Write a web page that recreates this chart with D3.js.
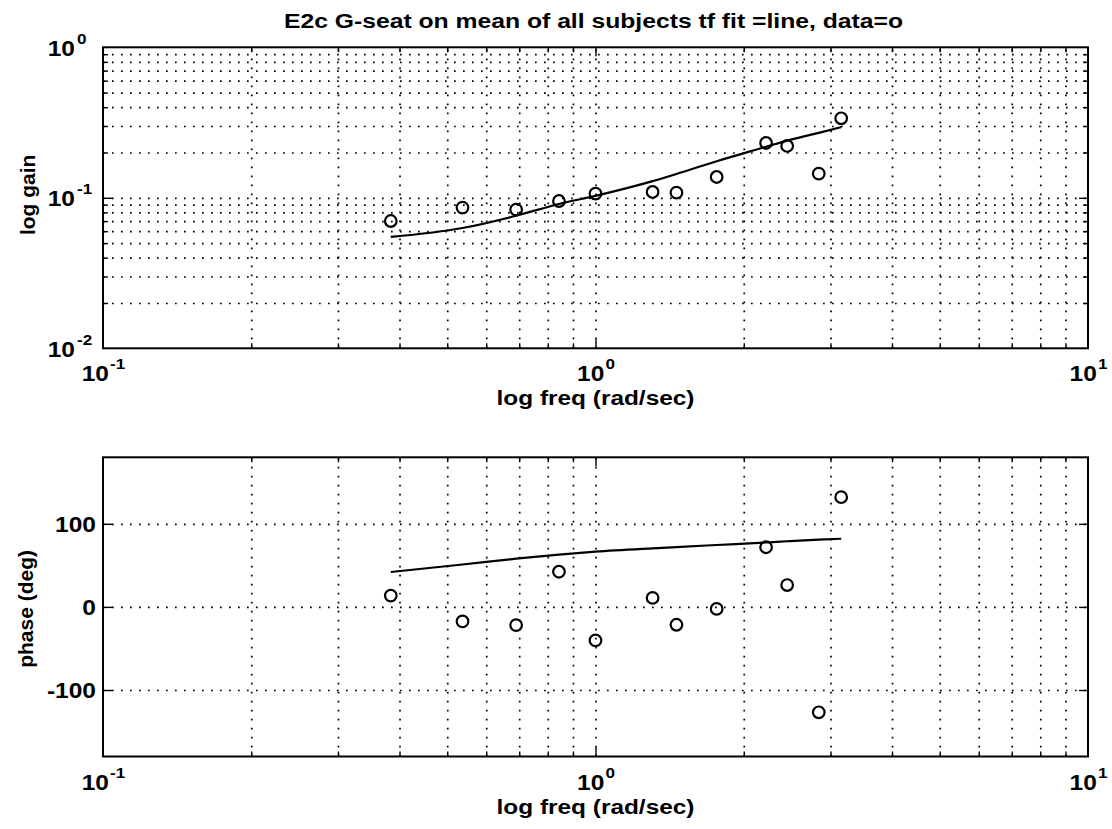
<!DOCTYPE html>
<html>
<head>
<meta charset="utf-8">
<script src="https://cdn.jsdelivr.net/npm/d3@7"></script>
<style>
  body { margin: 0; background: #fff; }
  text { font-family: "Liberation Sans", Arial, Helvetica, sans-serif; font-weight: bold; fill: #000; }
</style>
</head>
<body>
<svg id="chart" width="1112" height="829"></svg>
<script>
// Measured frequencies (rad/sec) and mean responses
const freq      = [0.384, 0.537, 0.690, 0.843, 1.000, 1.306, 1.460, 1.762, 2.220, 2.450, 2.840, 3.154];
const gainData  = [0.0701, 0.0861, 0.0834, 0.0952, 0.1066, 0.1093, 0.1082, 0.1375, 0.2313, 0.2210, 0.1447, 0.3375];
const phaseData = [13.6, -17.5, -21.9, 42.3, -40.3, 10.8, -21.5, -2.4, 71.8, 26.3, -126.8, 132.0];

// Transfer-function fit evaluated at the same frequencies
const gainFit   = [0.055, 0.063, 0.076, 0.091, 0.103, 0.129, 0.144, 0.175, 0.218, 0.240, 0.270, 0.295];
const phaseFit  = [42.0, 51.0, 58.0, 63.0, 66.5, 70.5, 72.0, 74.5, 77.5, 79.0, 81.0, 82.0];

// Axis ticks
const xMajor      = [0.1, 1, 10];
const xExp        = ["-1", "0", "1"];
const gainMajor   = [0.01, 0.1, 1];
const gainExp     = ["-2", "-1", "0"];
const phaseTicks  = [-100, 0, 100];
const phaseLabels = ["-100", "0", "100"];

const titleText  = "E2c G-seat on mean of all subjects tf fit =line, data=o";
const xLabelText = "log freq (rad/sec)";

const svg = d3.select("#chart");

const L = 103, R = 1088;
const panels = [
  { top: 47.3, bottom: 348.3 },
  { top: 457.3, bottom: 756.5 }
];
const WIDEN = 1.14;   // horizontal stretch of the tick-label lettering

const x = d3.scaleLog().domain([0.1, 10]).range([L, R]);
const yGain = d3.scaleLog().domain([0.01, 1]).range([panels[0].bottom, panels[0].top]);
const yPhase = d3.scaleLinear().domain([-180, 180]).range([panels[1].bottom, panels[1].top]);

// log-axis grid positions (every 1..9 within each decade, excluding the frame)
const xAll = x.ticks().filter(v => v > 0.1 && v < 10);
const xMinor = xAll.filter(v => !xMajor.includes(v));
const gainAll = yGain.ticks().filter(v => v > 0.01 && v < 1);
const gainMinor = gainAll.filter(v => !gainMajor.some(m => Math.abs(m - v) < 1e-9));

const DOT = "1.7 7.3";

function dottedGrid(g) {
  g.select(".domain").remove();
  g.selectAll(".tick line")
    .attr("stroke", "#000")
    .attr("stroke-width", 1.7)
    .attr("stroke-dasharray", DOT);
}
function plainTicks(g) {
  g.select(".domain").remove();
  g.selectAll(".tick line").attr("stroke", "#000").attr("stroke-width", 1.4);
}

function drawPanel(p, yScale, yGridVals, yMajorVals, yMinorVals) {
  const h = p.bottom - p.top, w = R - L;

  // vertical grid
  svg.append("g").attr("transform", `translate(0,${p.bottom})`)
    .call(d3.axisBottom(x).tickValues(xAll).tickSize(-h).tickFormat(""))
    .call(dottedGrid);
  // horizontal grid
  svg.append("g").attr("transform", `translate(${L},0)`)
    .call(d3.axisLeft(yScale).tickValues(yGridVals).tickSize(-w).tickFormat(""))
    .call(dottedGrid);

  // inward ticks on all four sides
  const xMajInner = xMajor.filter(v => v > 0.1 && v < 10);
  [[d3.axisBottom, p.bottom], [d3.axisTop, p.top]].forEach(([ax, yy]) => {
    svg.append("g").attr("transform", `translate(0,${yy})`)
      .call(ax(x).tickValues(xMajInner).tickSize(-9).tickFormat("")).call(plainTicks);
    svg.append("g").attr("transform", `translate(0,${yy})`)
      .call(ax(x).tickValues(xMinor).tickSize(-5).tickFormat("")).call(plainTicks);
  });
  [[d3.axisLeft, L], [d3.axisRight, R]].forEach(([ax, xx]) => {
    svg.append("g").attr("transform", `translate(${xx},0)`)
      .call(ax(yScale).tickValues(yMajorVals).tickSize(-9).tickFormat("")).call(plainTicks);
    if (yMinorVals.length) {
      svg.append("g").attr("transform", `translate(${xx},0)`)
        .call(ax(yScale).tickValues(yMinorVals).tickSize(-5).tickFormat("")).call(plainTicks);
    }
  });

  // frame
  svg.append("rect")
    .attr("x", L).attr("y", p.top).attr("width", w).attr("height", h)
    .attr("fill", "none").attr("stroke", "#000").attr("stroke-width", 2);

  // x tick labels: 10 with superscript exponent
  const xl = svg.append("g").attr("transform", `translate(0,${p.bottom})`)
    .call(d3.axisBottom(x).tickValues(xMajor).tickSize(0).tickFormat(""));
  xl.select(".domain").remove();
  xl.selectAll(".tick").each(function(d, i) {
    const t = d3.select(this).append("text")
      .attr("text-anchor", "middle")
      .attr("transform", `translate(0,33) scale(${WIDEN},1)`)
      .attr("font-size", 21.5);
    t.append("tspan").text("10");
    t.append("tspan").attr("dy", -12).attr("dx", 1).attr("font-size", 15).text(xExp[i]);
  });

  // x axis label
  svg.append("text")
    .attr("x", (L + R) / 2).attr("y", p.bottom + 57)
    .attr("text-anchor", "middle").attr("font-size", 21)
    .attr("textLength", 198).attr("lengthAdjust", "spacingAndGlyphs")
    .text(xLabelText);
}

// ---- gain panel
drawPanel(panels[0], yGain, gainAll, gainMajor.filter(v => v > 0.01 && v < 1), gainMinor);

const gl = svg.append("g").attr("transform", `translate(${L},0)`)
  .call(d3.axisLeft(yGain).tickValues(gainMajor).tickSize(0).tickFormat(""));
gl.select(".domain").remove();
gl.selectAll(".tick").each(function(d, i) {
  const g = d3.select(this);
  g.append("text").attr("text-anchor", "end")
    .attr("transform", `translate(-28,8) scale(${WIDEN},1)`)
    .attr("font-size", 21.5).text("10");
  g.append("text").attr("text-anchor", "start")
    .attr("transform", `translate(-26,-4) scale(${WIDEN},1)`)
    .attr("font-size", 15).text(gainExp[i]);
});

const gainLine = d3.line().x((d, i) => x(freq[i])).y(d => yGain(d)).curve(d3.curveMonotoneX);
svg.append("path").datum(gainFit)
  .attr("d", gainLine).attr("fill", "none").attr("stroke", "#000").attr("stroke-width", 2.2);
svg.append("g").selectAll("circle").data(gainData).join("circle")
  .attr("cx", (d, i) => x(freq[i])).attr("cy", d => yGain(d)).attr("r", 5.8)
  .attr("fill", "none").attr("stroke", "#000").attr("stroke-width", 2.2);

svg.append("text")
  .attr("transform", `translate(35,${(panels[0].top + panels[0].bottom) / 2 - 3}) rotate(-90)`)
  .attr("text-anchor", "middle").attr("font-size", 21).text("log gain");

// ---- phase panel
drawPanel(panels[1], yPhase, phaseTicks, phaseTicks, []);

const pl = svg.append("g").attr("transform", `translate(${L},0)`)
  .call(d3.axisLeft(yPhase).tickValues(phaseTicks).tickSize(0).tickFormat(""));
pl.select(".domain").remove();
pl.selectAll(".tick").each(function(d, i) {
  d3.select(this).append("text")
    .attr("text-anchor", "end")
    .attr("transform", `translate(-7,7.5) scale(${WIDEN},1)`)
    .attr("font-size", 21.5).text(phaseLabels[i]);
});

const phaseLine = d3.line().x((d, i) => x(freq[i])).y(d => yPhase(d)).curve(d3.curveMonotoneX);
svg.append("path").datum(phaseFit)
  .attr("d", phaseLine).attr("fill", "none").attr("stroke", "#000").attr("stroke-width", 2.2);
svg.append("g").selectAll("circle").data(phaseData).join("circle")
  .attr("cx", (d, i) => x(freq[i])).attr("cy", d => yPhase(d)).attr("r", 5.8)
  .attr("fill", "none").attr("stroke", "#000").attr("stroke-width", 2.2);

svg.append("text")
  .attr("transform", `translate(33,${(panels[1].top + panels[1].bottom) / 2 + 2}) rotate(-90)`)
  .attr("text-anchor", "middle").attr("font-size", 21).text("phase (deg)");

// ---- title
svg.append("text")
  .attr("x", 593.5).attr("y", 28)
  .attr("text-anchor", "middle").attr("font-size", 20)
  .attr("textLength", 619).attr("lengthAdjust", "spacingAndGlyphs")
  .text(titleText);
</script>
</body>
</html>
